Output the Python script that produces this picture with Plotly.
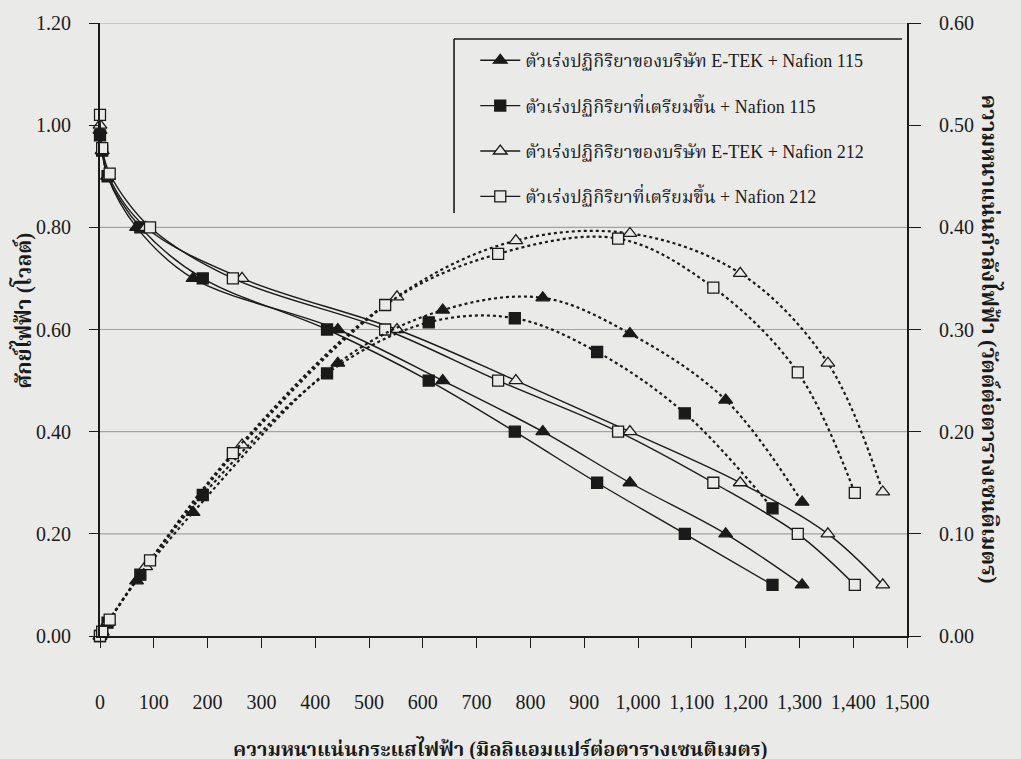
import plotly.graph_objects as go

# Current density (mA/cm^2), cell voltage (V) and power density (W/cm^2)
# for each catalyst / membrane combination.
names = [
    "ตัวเร่งปฏิกิริยาของบริษัท E-TEK + Nafion 115",
    "ตัวเร่งปฏิกิริยาที่เตรียมขึ้น + Nafion 115",
    "ตัวเร่งปฏิกิริยาของบริษัท E-TEK + Nafion 212",
    "ตัวเร่งปฏิกิริยาที่เตรียมขึ้น + Nafion 212",
]

etek115_i = [0, 4, 14, 68, 173, 442, 637, 823, 985, 1163, 1305]
etek115_v = [0.99, 0.95, 0.90, 0.80, 0.70, 0.60, 0.50, 0.40, 0.30, 0.20, 0.10]
etek115_p = [0.0, 0.004, 0.013, 0.054, 0.121, 0.267, 0.319, 0.331, 0.296, 0.231, 0.131]

prep115_i = [0, 4, 14, 75, 191, 422, 611, 771, 924, 1087, 1250]
prep115_v = [0.98, 0.95, 0.90, 0.80, 0.70, 0.60, 0.50, 0.40, 0.30, 0.20, 0.10]
prep115_p = [0.0, 0.004, 0.013, 0.060, 0.138, 0.257, 0.307, 0.311, 0.278, 0.218, 0.125]

etek212_i = [0, 4, 16, 85, 264, 552, 773, 985, 1190, 1353, 1455]
etek212_v = [1.00, 0.95, 0.90, 0.80, 0.70, 0.60, 0.50, 0.40, 0.30, 0.20, 0.10]
etek212_p = [0.0, 0.004, 0.014, 0.068, 0.187, 0.332, 0.387, 0.394, 0.355, 0.267, 0.141]

prep212_i = [0, 4, 18, 93, 247, 530, 740, 963, 1140, 1297, 1403]
prep212_v = [1.02, 0.955, 0.905, 0.80, 0.70, 0.60, 0.50, 0.40, 0.30, 0.20, 0.10]
prep212_p = [0.0, 0.004, 0.016, 0.074, 0.179, 0.324, 0.374, 0.389, 0.341, 0.258, 0.140]

x_ticks = list(range(0, 1501, 100))
v_ticks = [0.0, 0.2, 0.4, 0.6, 0.8, 1.0, 1.2]
p_ticks = [0.0, 0.1, 0.2, 0.3, 0.4, 0.5, 0.6]
grid_levels = [0.2, 0.4, 0.6, 0.8, 1.2]

BG = "#eaeae8"
INK = "#1a1a1a"
SERIF = "Liberation Serif, Noto Serif Thai, Noto Sans Thai, serif"

series = [
    (etek115_i, etek115_v, etek115_p, "triangle-up", INK, 12),
    (prep115_i, prep115_v, prep115_p, "square", INK, 11),
    (etek212_i, etek212_v, etek212_p, "triangle-up", BG, 12),
    (prep212_i, prep212_v, prep212_p, "square", BG, 11),
]

fig = go.Figure()

for k, (ci, cv, cp, sym, fill, size) in enumerate(series):
    marker = dict(symbol=sym, size=size, color=fill,
                  line=dict(color=INK, width=1.3))
    # polarisation curve (left axis)
    fig.add_trace(go.Scatter(
        x=ci, y=cv, mode="lines+markers", name=names[k],
        legendgroup=f"g{k}", line=dict(color=INK, width=1.4, shape="spline"),
        marker=marker, cliponaxis=False, yaxis="y"))
    # power density curve (right axis)
    fig.add_trace(go.Scatter(
        x=ci, y=cp, mode="lines+markers", name=names[k], showlegend=False,
        legendgroup=f"g{k}",
        line=dict(color=INK, width=2.2, dash="dot", shape="spline"),
        marker=marker, cliponaxis=False, yaxis="y2"))

shapes = [
    dict(type="line", xref="paper", yref="y", x0=0, x1=1, y0=g, y1=g,
         line=dict(color="#a3a3a3", width=1.2), layer="below")
    for g in grid_levels
]
# legend frame (top and left edges)
shapes += [
    dict(type="line", xref="paper", yref="paper", x0=0.4387, x1=0.9938,
         y0=0.9739, y1=0.9739, line=dict(color=INK, width=1.6)),
    dict(type="line", xref="paper", yref="paper", x0=0.4387, x1=0.4387,
         y0=0.9739, y1=0.690, line=dict(color=INK, width=1.6)),
]

fig.update_layout(
    width=1021, height=759,
    margin=dict(l=100, r=114, t=23, b=123),
    paper_bgcolor=BG, plot_bgcolor=BG,
    font=dict(family=SERIF, color=INK, size=18),
    shapes=shapes,
    showlegend=True,
    legend=dict(x=0.465, y=0.969, xanchor="left", yanchor="top",
                bgcolor="rgba(0,0,0,0)", borderwidth=0,
                font=dict(family=SERIF, size=18, color=INK),
                tracegroupgap=19, itemwidth=40),
    xaxis=dict(range=[0, 1500], tickvals=x_ticks, tickformat=",d",
               showgrid=False, zeroline=False, showline=True,
               linecolor=INK, linewidth=2, ticks="outside", ticklen=10,
               tickwidth=1.3, tickcolor=INK, ticklabelstandoff=37,
               tickfont=dict(family=SERIF, size=20, color=INK)),
    yaxis=dict(range=[0, 1.2], tickvals=v_ticks, tickformat=".2f",
               showgrid=False, zeroline=False, showline=True,
               linecolor=INK, linewidth=2, ticks="outside", ticklen=9,
               tickwidth=1.3, tickcolor=INK, ticklabelstandoff=14,
               tickfont=dict(family=SERIF, size=20, color=INK)),
    yaxis2=dict(range=[0, 0.6], tickvals=p_ticks, tickformat=".2f",
                overlaying="y", side="right", showgrid=False,
                zeroline=False, showline=True, linecolor=INK, linewidth=2,
                ticks="outside", ticklen=12, tickwidth=1.3, tickcolor=INK,
                ticklabelstandoff=14,
                tickfont=dict(family=SERIF, size=20, color=INK)),
    annotations=[
        dict(text="<b>ความหนาแน่นกระแสไฟฟ้า (มิลลิแอมแปร์ต่อตารางเซนติเมตร)</b>",
             xref="paper", yref="paper", x=0.496, y=-0.183,
             xanchor="center", yanchor="middle", showarrow=False,
             font=dict(family=SERIF, size=20, color=INK)),
        dict(text="<b>ศักย์ไฟฟ้า (โวลต์)</b>", textangle=-90,
             xref="paper", yref="paper", x=-0.096, y=0.53,
             xanchor="center", yanchor="middle", showarrow=False,
             font=dict(family=SERIF, size=21, color=INK)),
        dict(text="<b>ความหนาแน่นกำลังไฟฟ้า (วัตต์ต่อตารางเซนติเมตร)</b>",
             textangle=90, xref="paper", yref="paper", x=1.103, y=0.485,
             xanchor="center", yanchor="middle", showarrow=False,
             font=dict(family=SERIF, size=22, color=INK)),
    ],
)

fig.write_html("out.html")
